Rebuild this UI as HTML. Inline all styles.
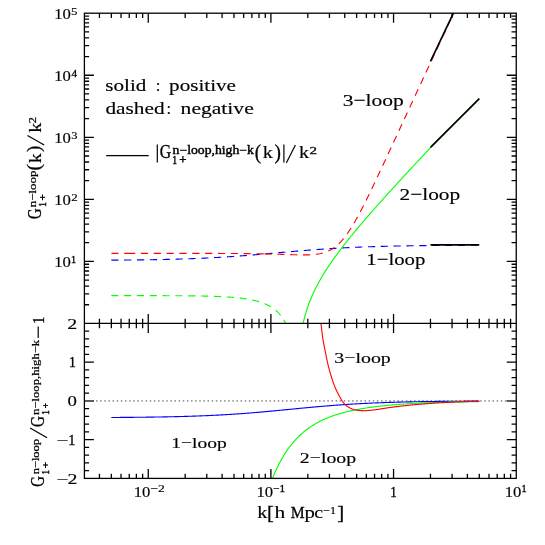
<!DOCTYPE html>
<html><head><meta charset="utf-8"><title>G1+ n-loop vs high-k limit</title>
<style>
html,body{margin:0;padding:0;background:#fff;}
body{width:545px;height:545px;overflow:hidden;}
svg{display:block;}
text{font-family:"Liberation Serif",serif;fill:#000;}
</style></head><body>
<svg width="545" height="545" viewBox="0 0 545 545">
<rect width="545" height="545" fill="#fff"/>
<g style="will-change:opacity;isolation:isolate" opacity="0.9999">
<defs><clipPath id="ct"><rect x="84.40" y="13.20" width="431.85" height="310.25"/></clipPath>
<clipPath id="cb"><rect x="84.40" y="323.45" width="431.85" height="154.95"/></clipPath></defs>
<line x1="84.40" y1="400.90" x2="516.25" y2="400.90" stroke="#989898" stroke-width="1.7" stroke-dasharray="1.5 2.63" stroke-dashoffset="0.75"/>
<g clip-path="url(#ct)">
<path d="M111.33 260.18 L112.25 260.18 L113.17 260.17 L114.10 260.16 L115.02 260.16 L115.94 260.15 L116.86 260.14 L117.78 260.13 L118.53 260.13 M124.18 260.08 L124.24 260.07 L125.16 260.07 L126.08 260.06 L127.01 260.05 L127.93 260.04 L128.85 260.03 L129.77 260.02 L130.69 260.01 L131.38 260.00 M137.03 259.93 L137.15 259.93 L138.07 259.92 L138.99 259.91 L139.92 259.90 L140.84 259.88 L141.76 259.87 L142.68 259.86 L143.60 259.84 L144.23 259.83 M149.88 259.75 L150.06 259.74 L150.98 259.73 L151.90 259.71 L152.83 259.69 L153.75 259.68 L154.67 259.66 L155.59 259.64 L156.52 259.63 L157.07 259.62 M162.72 259.50 L162.97 259.49 L163.89 259.47 L164.82 259.45 L165.74 259.43 L166.66 259.41 L167.58 259.39 L168.50 259.37 L169.43 259.34 L169.92 259.33 M175.57 259.18 L175.88 259.17 L176.80 259.15 L177.73 259.12 L178.65 259.09 L179.57 259.06 L180.49 259.04 L181.41 259.01 L182.34 258.98 L182.77 258.97 M188.41 258.77 L188.79 258.76 L189.71 258.73 L190.64 258.69 L191.56 258.66 L192.48 258.62 L193.40 258.59 L194.32 258.55 L195.25 258.52 L195.61 258.50 M201.25 258.26 L201.70 258.24 L202.62 258.20 L203.55 258.16 L204.47 258.12 L205.39 258.07 L206.31 258.03 L207.24 257.98 L208.16 257.94 L208.45 257.92 M214.09 257.63 L214.61 257.60 L215.54 257.55 L216.46 257.50 L217.38 257.45 L218.30 257.40 L219.22 257.34 L220.15 257.29 L221.07 257.23 L221.28 257.22 M226.91 256.87 L227.52 256.83 L228.45 256.77 L229.37 256.71 L230.29 256.65 L231.21 256.59 L232.13 256.53 L233.06 256.46 L233.98 256.40 L234.10 256.39 M239.73 255.99 L240.43 255.93 L241.36 255.87 L242.28 255.80 L243.20 255.73 L244.12 255.66 L245.04 255.58 L245.97 255.51 L246.89 255.44 L246.91 255.44 M252.55 254.99 L253.34 254.92 L254.27 254.84 L255.19 254.77 L256.11 254.69 L257.03 254.61 L257.96 254.54 L258.88 254.46 L259.72 254.39 M265.35 253.90 L266.25 253.82 L267.18 253.74 L268.10 253.66 L269.02 253.58 L269.94 253.50 L270.87 253.42 L271.79 253.33 L272.52 253.27 M278.15 252.77 L278.24 252.76 L279.17 252.68 L280.09 252.60 L281.01 252.52 L281.93 252.43 L282.85 252.35 L283.78 252.27 L284.70 252.19 L285.32 252.13 M290.95 251.64 L291.15 251.62 L292.08 251.54 L293.00 251.46 L293.92 251.38 L294.84 251.30 L295.76 251.23 L296.69 251.15 L297.61 251.07 L298.12 251.03 M303.75 250.56 L304.06 250.53 L304.99 250.46 L305.91 250.39 L306.83 250.31 L307.75 250.24 L308.68 250.17 L309.60 250.09 L310.52 250.02 L310.93 249.99 M316.57 249.57 L316.97 249.54 L317.90 249.47 L318.82 249.40 L319.74 249.34 L320.66 249.27 L321.59 249.21 L322.51 249.14 L323.43 249.08 L323.75 249.06 M329.39 248.69 L329.89 248.66 L330.81 248.60 L331.73 248.54 L332.65 248.49 L333.57 248.43 L334.50 248.37 L335.42 248.32 L336.34 248.27 L336.57 248.25 M342.21 247.94 L342.80 247.91 L343.72 247.86 L344.64 247.81 L345.56 247.76 L346.48 247.72 L347.41 247.67 L348.33 247.63 L349.25 247.58 L349.40 247.57 M355.05 247.32 L355.71 247.29 L356.63 247.25 L357.55 247.21 L358.47 247.17 L359.40 247.13 L360.32 247.09 L361.24 247.06 L362.16 247.02 L362.24 247.02 M367.89 246.81 L368.62 246.79 L369.54 246.75 L370.46 246.72 L371.38 246.69 L372.31 246.66 L373.23 246.63 L374.15 246.60 L375.07 246.58 L375.08 246.57 M380.73 246.41 L381.53 246.39 L382.45 246.36 L383.37 246.34 L384.29 246.32 L385.22 246.29 L386.14 246.27 L387.06 246.25 L387.93 246.23 M393.58 246.10 L394.44 246.08 L395.36 246.06 L396.28 246.04 L397.20 246.02 L398.13 246.00 L399.05 245.99 L399.97 245.97 L400.78 245.95 M406.43 245.86 L406.43 245.86 L407.35 245.84 L408.27 245.83 L409.19 245.81 L410.12 245.80 L411.04 245.78 L411.96 245.77 L412.88 245.76 L413.63 245.75 M419.27 245.67 L419.34 245.67 L420.26 245.66 L421.18 245.65 L422.10 245.64 L423.03 245.63 L423.95 245.62 L424.87 245.61 L425.79 245.60 L426.47 245.59 M432.12 245.53 L432.25 245.53 L433.17 245.52 L434.09 245.51 L435.01 245.51 L435.94 245.50 L436.86 245.49 L437.78 245.48 L438.70 245.47 L439.32 245.47 M444.97 245.43 L445.16 245.42 L446.08 245.42 L447.00 245.41 L447.92 245.41 L448.85 245.40 L449.77 245.39 L450.69 245.39 L451.61 245.38 L452.17 245.38 M457.82 245.35 L458.07 245.35 L458.99 245.34 L459.91 245.34 L460.84 245.33 L461.76 245.33 L462.68 245.32 L463.60 245.32 L464.52 245.31 L465.02 245.31 M470.67 245.29 L470.98 245.29 L471.90 245.28 L472.82 245.28 L473.75 245.28 L474.67 245.27 L475.59 245.27 L476.51 245.27 L477.43 245.26 L477.87 245.26" fill="none" stroke="#0000ff" stroke-width="1.12"/>
<path d="M111.33 253.31 L111.41 253.31 L111.50 253.31 L111.58 253.31 L111.66 253.31 L111.75 253.31 L111.83 253.31 L111.92 253.31 L112.00 253.31 L112.08 253.31 L112.17 253.31 L112.25 253.32 L112.33 253.32 L112.42 253.32 L112.50 253.32 L112.59 253.32 L112.67 253.32 L112.75 253.32 L112.84 253.32 L112.92 253.32 L113.00 253.32 L113.09 253.32 L113.17 253.32 L113.26 253.32 L113.34 253.32 L113.42 253.32 L113.51 253.32 L113.59 253.32 L113.67 253.32 L113.76 253.32 L113.84 253.32 L113.93 253.32 L114.01 253.32 L114.09 253.32 L114.18 253.32 L114.26 253.32 L114.34 253.32 L114.43 253.32 L114.51 253.32 L114.60 253.32 L114.68 253.32 L114.76 253.32 L114.85 253.32 L114.93 253.32 L115.01 253.32 L115.10 253.32 L115.18 253.32 L115.27 253.32 L115.35 253.32 L115.43 253.32 L115.52 253.32 L115.60 253.32 L115.68 253.32 L115.77 253.32 L115.85 253.32 L115.94 253.32 L116.02 253.32 L116.10 253.32 L116.19 253.32 L116.27 253.32 L116.36 253.32 L116.44 253.32 L116.52 253.32 L116.61 253.32 L116.69 253.32 L116.77 253.32 L116.86 253.32 L116.94 253.32 L117.03 253.32 L117.11 253.32 L117.19 253.32 L117.28 253.32 L117.36 253.32 L117.44 253.32 L117.53 253.32 L117.61 253.32 L117.70 253.32 L117.78 253.32 L117.86 253.32 L117.95 253.32 L118.03 253.32 L118.11 253.32 L118.20 253.32 L118.28 253.32 L118.37 253.32 L118.45 253.32 L118.53 253.32 M124.18 253.32 L124.23 253.32 L124.31 253.32 L124.40 253.32 L124.48 253.32 L124.57 253.32 L124.65 253.32 L124.73 253.32 L124.82 253.32 L124.90 253.32 L124.98 253.32 L125.07 253.32 L125.15 253.32 L125.24 253.32 L125.32 253.32 L125.40 253.32 L125.49 253.32 L125.57 253.32 L125.65 253.32 L125.74 253.32 L125.82 253.32 L125.91 253.32 L125.99 253.32 L126.07 253.32 L126.16 253.32 L126.24 253.32 L126.32 253.32 L126.41 253.32 L126.49 253.32 L126.58 253.32 L126.66 253.32 L126.74 253.32 L126.83 253.32 L126.91 253.32 L126.99 253.32 L127.08 253.32 L127.16 253.32 L127.25 253.32 L127.33 253.32 L127.41 253.32 L127.50 253.32 L127.58 253.32 L127.66 253.32 L127.75 253.32 L127.83 253.32 L127.92 253.32 L128.00 253.32" fill="none" stroke="#ff0000" stroke-width="1.12"/>
<path d="M128.00 253.32 L128.69 253.32 L129.37 253.32 L130.06 253.32 L130.74 253.32 L131.43 253.32 L132.12 253.32 L132.80 253.32 L133.49 253.32 L134.17 253.32 L134.86 253.32 L135.20 253.32 M140.85 253.32 L141.03 253.32 L141.72 253.32 L142.40 253.32 L143.09 253.32 L143.78 253.32 L144.46 253.32 L145.15 253.32 L145.83 253.32 L146.52 253.32 L147.21 253.32 L147.89 253.32 L148.05 253.32 M153.70 253.32 L154.07 253.32 L154.75 253.32 L155.44 253.32 L156.12 253.32 L156.81 253.32 L157.49 253.32 L158.18 253.33 L158.87 253.33 L159.55 253.33 L160.24 253.33 L160.90 253.33 M166.55 253.33 L167.10 253.33 L167.78 253.33 L168.47 253.33 L169.16 253.33 L169.84 253.33 L170.53 253.33 L171.21 253.33 L171.90 253.33 L172.59 253.33 L173.27 253.33 L173.75 253.34 M179.40 253.34 L179.44 253.34 L180.13 253.34 L180.82 253.34 L181.50 253.34 L182.19 253.34 L182.87 253.34 L183.56 253.34 L184.25 253.35 L184.93 253.35 L185.62 253.35 L186.30 253.35 L186.60 253.35 M192.25 253.36 L192.48 253.36 L193.16 253.36 L193.85 253.36 L194.54 253.36 L195.22 253.36 L195.91 253.36 L196.59 253.37 L197.28 253.37 L197.96 253.37 L198.65 253.37 L199.34 253.37 L199.45 253.37 M205.10 253.38 L205.51 253.39 L206.20 253.39 L206.88 253.39 L207.57 253.39 L208.25 253.39 L208.94 253.40 L209.63 253.40 L210.31 253.40 L211.00 253.40 L211.68 253.40 L212.30 253.41 M217.95 253.43 L218.54 253.43 L219.23 253.43 L219.91 253.44 L220.60 253.44 L221.29 253.44 L221.97 253.45 L222.66 253.45 L223.34 253.45 L224.03 253.46 L224.72 253.46 L225.15 253.46 M230.80 253.50 L230.89 253.50 L231.58 253.50 L232.26 253.51 L232.95 253.51 L233.63 253.52 L234.32 253.52 L235.01 253.53 L235.69 253.54 L236.38 253.54 L237.06 253.55 L237.75 253.55 L238.00 253.56 M243.65 253.61 L243.92 253.61 L244.61 253.62 L245.29 253.63 L245.98 253.64 L246.67 253.64 L247.35 253.65 L248.04 253.66 L248.72 253.67 L249.41 253.68 L250.10 253.69 L250.78 253.70 L250.85 253.70 M256.50 253.78 L256.95 253.79 L257.64 253.80 L258.33 253.81 L259.01 253.83 L259.70 253.84 L260.38 253.85 L261.07 253.86 L261.76 253.88 L262.44 253.89 L263.13 253.90 L263.70 253.91" fill="none" stroke="#ff0000" stroke-width="1.12"/>
<path d="M264.50 253.93 L265.58 253.95 L266.66 253.98 L267.74 254.00 L268.82 254.03 L269.90 254.05 L270.98 254.08 L271.70 254.10 M277.35 254.25 L277.45 254.25 L278.53 254.28 L279.61 254.31 L280.69 254.34 L281.77 254.38 L282.85 254.41 L283.93 254.44 L284.54 254.46 M290.19 254.63 L290.40 254.64 L291.48 254.67 L292.56 254.70 L293.64 254.73 L294.72 254.76 L295.80 254.79 L296.88 254.82 L297.39 254.83 M303.04 254.90 L303.35 254.90 L304.43 254.90 L305.51 254.89 L306.59 254.88 L307.67 254.86 L308.75 254.83 L309.83 254.79 L310.24 254.77 M315.87 254.32 L316.31 254.26 L317.39 254.12 L318.46 253.95 L319.54 253.76 L320.62 253.54 L321.70 253.29 L322.78 253.02 L322.93 252.97 M328.24 251.06 L329.26 250.58 L330.34 250.02 L331.42 249.42 L332.50 248.76 L333.57 248.04 L334.44 247.42 M338.76 243.79 L338.97 243.59 L340.05 242.51 L341.13 241.38 L342.21 240.17 L343.29 238.91 L343.63 238.49 M347.06 234.00 L347.61 233.24 L348.68 231.67 L349.76 230.05 L350.84 228.38 L351.07 228.02 M354.01 223.20 L354.08 223.07 L355.16 221.21 L356.24 219.31 L357.32 217.37 L357.56 216.93 M360.23 211.96 L360.56 211.35 L361.64 209.28 L362.72 207.19 L363.54 205.56 M366.08 200.51 L367.03 198.59 L368.11 196.39 L369.19 194.18 L369.25 194.05 M371.71 188.96 L372.43 187.46 L373.51 185.20 L374.59 182.93 L374.81 182.47 M377.22 177.36 L377.83 176.08 L378.90 173.78 L379.98 171.48 L380.28 170.84 M382.67 165.72 L383.22 164.55 L384.30 162.23 L385.38 159.91 L385.71 159.19 M388.09 154.07 L388.62 152.94 L389.70 150.61 L390.78 148.29 L391.12 147.54 M393.50 142.41 L394.01 141.30 L395.09 138.97 L396.17 136.64 L396.53 135.88 M398.90 130.75 L399.41 129.65 L400.49 127.32 L401.57 124.99 L401.93 124.22 M404.30 119.09 L404.81 118.01 L405.89 115.68 L406.97 113.35 L407.33 112.56 M409.71 107.44 L410.20 106.37 L411.28 104.05 L412.36 101.72 L412.74 100.91 M415.12 95.78 L415.60 94.75 L416.68 92.43 L417.76 90.11 L418.16 89.25 M420.54 84.13 L421.00 83.15 L422.08 80.83 L423.16 78.51 L423.58 77.60 M425.96 72.48 L426.39 71.56 L427.47 69.24 L428.55 66.92 L429.00 65.95 M431.39 60.83 L431.79 59.98 L432.87 57.66 L433.95 55.35 L434.43 54.31 M436.82 49.19 L437.19 48.41 L438.27 46.10 L439.34 43.78 L439.87 42.66 M442.26 37.54 L442.58 36.85 L443.66 34.54 L444.74 32.23 L445.31 31.02 M447.70 25.90 L447.98 25.29 L449.06 22.98 L450.14 20.68 L450.74 19.38 M453.14 14.26 L453.38 13.75 L454.46 11.44 L455.53 9.13 L456.19 7.74 M458.58 2.62 L458.77 2.21 L459.85 -0.10 L460.93 -2.41 L461.63 -3.90 M464.02 -9.02 L464.17 -9.33 L465.25 -11.64 L466.33 -13.95 L467.07 -15.54 M469.47 -20.66 L469.57 -20.87 L470.64 -23.17 L471.72 -25.48 L472.52 -27.18 M474.91 -32.30 L474.96 -32.40 L476.04 -34.71 L477.12 -37.01 L477.97 -38.82" fill="none" stroke="#ff0000" stroke-width="1.12"/>
<path d="M111.33 295.61 L111.45 295.61 L111.57 295.61 L111.69 295.61 L111.81 295.61 L111.93 295.61 L112.05 295.61 L112.17 295.61 L112.29 295.61 L112.41 295.61 L112.53 295.61 L112.65 295.61 L112.77 295.61 L112.89 295.61 L113.01 295.61 L113.13 295.61 L113.25 295.61 L113.37 295.61 L113.49 295.61 L113.61 295.61 L113.73 295.61 L113.85 295.61 L113.97 295.61 L114.09 295.61 L114.21 295.61 L114.33 295.61 L114.45 295.61 L114.57 295.61 L114.69 295.61 L114.81 295.61 L114.93 295.62 L115.05 295.62 L115.17 295.62 L115.29 295.62 L115.41 295.62 L115.53 295.62 L115.65 295.62 L115.77 295.62 L115.89 295.62 L116.01 295.62 L116.13 295.62 L116.25 295.62 L116.37 295.62 L116.49 295.62 L116.61 295.62 L116.73 295.62 L116.85 295.62 L116.97 295.62 L117.09 295.62 L117.21 295.62 L117.33 295.62 L117.45 295.62 L117.57 295.62 L117.69 295.62 L117.81 295.62 L117.93 295.62 L118.05 295.62 L118.17 295.62 L118.29 295.62 L118.33 295.62 M123.98 295.62 L124.04 295.62 L124.16 295.62 L124.28 295.62 L124.40 295.62 L124.52 295.62 L124.64 295.62 L124.76 295.62 L124.88 295.62 L125.00 295.62 L125.12 295.62 L125.24 295.62 L125.36 295.62 L125.48 295.62 L125.60 295.62 L125.72 295.62 L125.84 295.62 L125.96 295.62 L126.08 295.62 L126.20 295.62 L126.32 295.62 L126.44 295.62 L126.56 295.62 L126.68 295.62 L126.80 295.62 L126.92 295.62 L127.04 295.62 L127.16 295.62 L127.28 295.62 L127.40 295.62 L127.52 295.62 L127.64 295.62 L127.76 295.62 L127.88 295.62 L128.00 295.62 L128.12 295.62 L128.24 295.62 L128.36 295.62 L128.48 295.62 L128.60 295.62 L128.72 295.62 L128.84 295.62 L128.96 295.62 L129.08 295.62 L129.20 295.62 L129.32 295.62 L129.44 295.62 L129.56 295.62 L129.68 295.62 L129.80 295.62 L129.92 295.62 L130.04 295.62 L130.16 295.62 L130.28 295.62 L130.40 295.62 L130.52 295.62 L130.64 295.62 L130.76 295.62 L130.88 295.62 L131.00 295.62 L131.12 295.62 L131.18 295.62 M136.83 295.63 L136.88 295.63 L137.00 295.63 L137.12 295.63 L137.24 295.63 L137.36 295.63 L137.48 295.63 L137.60 295.63 L137.72 295.63 L137.84 295.63 L137.96 295.63 L138.08 295.63 L138.20 295.63 L138.32 295.63 L138.44 295.63 L138.56 295.63 L138.68 295.63 L138.80 295.63 L138.92 295.63 L139.04 295.63 L139.16 295.63 L139.28 295.63 L139.40 295.63 L139.52 295.63 L139.64 295.63 L139.76 295.63 L139.88 295.63 L140.00 295.63 L140.12 295.63 L140.24 295.63 L140.36 295.63 L140.48 295.63 L140.60 295.63 L140.72 295.63 L140.84 295.63 L140.96 295.63 L141.08 295.63 L141.20 295.63 L141.32 295.63 L141.44 295.63 L141.56 295.63 L141.68 295.63 L141.80 295.63 L141.92 295.63 L142.04 295.63 L142.16 295.63 L142.28 295.63 L142.40 295.63 L142.52 295.63 L142.64 295.63 L142.76 295.63 L142.88 295.63 L143.00 295.64 L143.12 295.64 L143.24 295.64 L143.36 295.64 L143.48 295.64 L143.60 295.64 L143.72 295.64 L143.84 295.64 L143.96 295.64 L144.03 295.64 M149.68 295.65 L149.72 295.65 L149.84 295.65 L149.96 295.65 L150.08 295.65 L150.20 295.65 L150.32 295.65 L150.44 295.65 L150.56 295.65 L150.68 295.65 L150.80 295.65 L150.92 295.65 L151.04 295.65 L151.16 295.65 L151.28 295.65 L151.40 295.65 L151.52 295.65 L151.64 295.65 L151.76 295.65 L151.88 295.65 L152.00 295.65 L152.12 295.65 L152.24 295.65 L152.36 295.65 L152.48 295.65 L152.60 295.65 L152.72 295.65 L152.84 295.65 L152.96 295.65 L153.08 295.65 L153.20 295.65 L153.32 295.65 L153.44 295.65 L153.56 295.65 L153.68 295.65 L153.80 295.65 L153.92 295.65 L154.04 295.65 L154.16 295.65 L154.28 295.65 L154.40 295.65 L154.52 295.65 L154.64 295.65 L154.76 295.66 L154.88 295.66 L155.00 295.66 L155.12 295.66 L155.24 295.66 L155.36 295.66 L155.48 295.66 L155.60 295.66 L155.72 295.66 L155.84 295.66 L155.96 295.66 L156.08 295.66 L156.19 295.66 L156.31 295.66 L156.43 295.66 L156.55 295.66 L156.67 295.66 L156.79 295.66 L156.88 295.66 M162.53 295.68 L162.55 295.68 L162.67 295.68 L162.79 295.68 L162.91 295.68 L163.03 295.68 L163.15 295.68 L163.27 295.68 L163.39 295.68 L163.51 295.68 L163.63 295.68 L163.75 295.68 L163.87 295.68 L163.99 295.68 L164.11 295.68 L164.23 295.68 L164.35 295.68 L164.47 295.68 L164.59 295.68 L164.71 295.68 L164.83 295.68 L164.95 295.68 L165.07 295.68 L165.19 295.69 L165.31 295.69 L165.43 295.69 L165.55 295.69 L165.67 295.69 L165.79 295.69 L165.91 295.69 L166.03 295.69 L166.15 295.69 L166.27 295.69 L166.39 295.69 L166.51 295.69 L166.63 295.69 L166.75 295.69 L166.87 295.69 L166.99 295.69 L167.11 295.69 L167.23 295.69 L167.35 295.69 L167.47 295.69 L167.59 295.69 L167.71 295.69 L167.83 295.70 L167.95 295.70 L168.07 295.70 L168.19 295.70 L168.31 295.70 L168.43 295.70 L168.55 295.70 L168.67 295.70 L168.79 295.70 L168.91 295.70 L169.03 295.70 L169.15 295.70 L169.27 295.70 L169.39 295.70 L169.51 295.70 L169.63 295.70 L169.73 295.70 M175.38 295.73 L175.39 295.73 L175.51 295.73 L175.63 295.73 L175.75 295.73 L175.87 295.73 L175.99 295.74 L176.11 295.74 L176.23 295.74 L176.35 295.74 L176.47 295.74 L176.59 295.74 L176.71 295.74 L176.83 295.74 L176.95 295.74 L177.07 295.74 L177.19 295.74 L177.31 295.74 L177.43 295.74 L177.55 295.75 L177.67 295.75 L177.79 295.75 L177.91 295.75 L178.03 295.75 L178.15 295.75 L178.27 295.75 L178.39 295.75 L178.51 295.75 L178.63 295.75 L178.75 295.75 L178.87 295.75 L178.99 295.75 L179.11 295.76 L179.23 295.76 L179.35 295.76 L179.47 295.76 L179.59 295.76 L179.71 295.76 L179.83 295.76 L179.95 295.76 L180.07 295.76 L180.19 295.76 L180.31 295.76 L180.43 295.76 L180.55 295.77 L180.67 295.77 L180.79 295.77 L180.91 295.77 L181.03 295.77 L181.15 295.77 L181.27 295.77 L181.39 295.77 L181.51 295.77 L181.63 295.77 L181.75 295.77 L181.87 295.78 L181.99 295.78 L182.11 295.78 L182.23 295.78 L182.35 295.78 L182.47 295.78 L182.58 295.78 M188.23 295.83 L188.35 295.83 L188.47 295.84 L188.59 295.84 L188.71 295.84 L188.83 295.84 L188.95 295.84 L189.06 295.84 L189.18 295.84 L189.30 295.84 L189.42 295.85 L189.54 295.85 L189.66 295.85 L189.78 295.85 L189.90 295.85 L190.02 295.85 L190.14 295.85 L190.26 295.86 L190.38 295.86 L190.50 295.86 L190.62 295.86 L190.74 295.86 L190.86 295.86 L190.98 295.86 L191.10 295.87 L191.22 295.87 L191.34 295.87 L191.46 295.87 L191.58 295.87 L191.70 295.87 L191.82 295.87 L191.94 295.88 L192.06 295.88 L192.18 295.88 L192.30 295.88 L192.42 295.88 L192.54 295.88 L192.66 295.88 L192.78 295.89 L192.90 295.89 L193.02 295.89 L193.14 295.89 L193.26 295.89 L193.38 295.89 L193.50 295.90 L193.62 295.90 L193.74 295.90 L193.86 295.90 L193.98 295.90 L194.10 295.90 L194.22 295.91 L194.34 295.91 L194.46 295.91 L194.58 295.91 L194.70 295.91 L194.82 295.91 L194.94 295.92 L195.06 295.92 L195.18 295.92 L195.30 295.92 L195.42 295.92 L195.43 295.92 M201.08 296.02 L201.18 296.02 L201.30 296.02 L201.42 296.02 L201.54 296.02 L201.66 296.03 L201.78 296.03 L201.90 296.03 L202.02 296.03 L202.14 296.04 L202.26 296.04 L202.38 296.04 L202.50 296.04 L202.62 296.05 L202.74 296.05 L202.86 296.05 L202.98 296.05 L203.10 296.06 L203.22 296.06 L203.34 296.06 L203.46 296.06 L203.58 296.07 L203.70 296.07 L203.82 296.07 L203.94 296.07 L204.06 296.08 L204.18 296.08 L204.30 296.08 L204.42 296.08 L204.54 296.09 L204.66 296.09 L204.78 296.09 L204.90 296.09 L205.02 296.10 L205.14 296.10 L205.26 296.10 L205.38 296.11 L205.50 296.11 L205.62 296.11 L205.74 296.11 L205.86 296.12 L205.98 296.12 L206.10 296.12 L206.22 296.12 L206.34 296.13 L206.46 296.13 L206.58 296.13 L206.70 296.14 L206.82 296.14 L206.94 296.14 L207.06 296.15 L207.18 296.15 L207.30 296.15 L207.42 296.15 L207.54 296.16 L207.66 296.16 L207.78 296.16 L207.90 296.17 L208.02 296.17 L208.14 296.17 L208.26 296.18 L208.27 296.18 M213.92 296.34 L214.02 296.35 L214.14 296.35 L214.26 296.36 L214.38 296.36 L214.50 296.36 L214.62 296.37 L214.74 296.37 L214.86 296.38 L214.98 296.38 L215.10 296.39 L215.22 296.39 L215.34 296.39 L215.46 296.40 L215.58 296.40 L215.70 296.41 L215.82 296.41 L215.94 296.42 L216.06 296.42 L216.18 296.43 L216.30 296.43 L216.42 296.43 L216.54 296.44 L216.66 296.44 L216.78 296.45 L216.90 296.45 L217.02 296.46 L217.14 296.46 L217.26 296.47 L217.38 296.47 L217.50 296.48 L217.62 296.48 L217.74 296.49 L217.86 296.49 L217.98 296.50 L218.10 296.50 L218.22 296.51 L218.34 296.51 L218.46 296.52 L218.58 296.52 L218.70 296.53 L218.82 296.53 L218.94 296.54 L219.06 296.54 L219.18 296.55 L219.30 296.55 L219.42 296.56 L219.54 296.56 L219.66 296.57 L219.78 296.57 L219.90 296.58 L220.02 296.58 L220.14 296.59 L220.26 296.59 L220.38 296.60 L220.50 296.60 L220.62 296.61 L220.74 296.62 L220.86 296.62 L220.98 296.63 L221.10 296.63 L221.12 296.63 M226.76 296.94 L226.85 296.94 L226.97 296.95 L227.09 296.96 L227.21 296.97 L227.33 296.97 L227.45 296.98 L227.57 296.99 L227.69 297.00 L227.81 297.00 L227.93 297.01 L228.05 297.02 L228.17 297.03 L228.29 297.04 L228.41 297.04 L228.53 297.05 L228.65 297.06 L228.77 297.07 L228.89 297.08 L229.01 297.08 L229.13 297.09 L229.25 297.10 L229.37 297.11 L229.49 297.12 L229.61 297.13 L229.73 297.13 L229.85 297.14 L229.97 297.15 L230.09 297.16 L230.21 297.17 L230.33 297.18 L230.45 297.19 L230.57 297.19 L230.69 297.20 L230.81 297.21 L230.93 297.22 L231.05 297.23 L231.17 297.24 L231.29 297.25 L231.41 297.26 L231.53 297.27 L231.65 297.28 L231.77 297.28 L231.89 297.29 L232.01 297.30 L232.13 297.31 L232.25 297.32 L232.37 297.33 L232.49 297.34 L232.61 297.35 L232.73 297.36 L232.85 297.37 L232.97 297.38 L233.09 297.39 L233.21 297.40 L233.33 297.41 L233.45 297.42 L233.57 297.43 L233.69 297.44 L233.81 297.45 L233.93 297.46 L233.94 297.46 M239.56 298.02 L239.57 298.02 L239.69 298.03 L239.81 298.04 L239.93 298.06 L240.05 298.07 L240.17 298.08 L240.29 298.10 L240.41 298.11 L240.53 298.13 L240.65 298.14 L240.77 298.16 L240.89 298.17 L241.01 298.18 L241.13 298.20 L241.25 298.21 L241.37 298.23 L241.49 298.24 L241.61 298.26 L241.73 298.27 L241.85 298.29 L241.97 298.30 L242.09 298.32 L242.21 298.33 L242.33 298.35 L242.45 298.36 L242.57 298.38 L242.69 298.39 L242.81 298.41 L242.93 298.43 L243.05 298.44 L243.17 298.46 L243.29 298.47 L243.41 298.49 L243.53 298.51 L243.65 298.52 L243.77 298.54 L243.89 298.56 L244.01 298.57 L244.13 298.59 L244.25 298.61 L244.37 298.62 L244.49 298.64 L244.61 298.66 L244.73 298.67 L244.85 298.69 L244.97 298.71 L245.09 298.73 L245.21 298.74 L245.33 298.76 L245.45 298.78 L245.57 298.80 L245.69 298.82 L245.81 298.83 L245.93 298.85 L246.05 298.87 L246.17 298.89 L246.29 298.91 L246.41 298.93 L246.53 298.95 L246.65 298.97 L246.70 298.97 M252.25 299.99 L252.29 300.00 L252.41 300.02 L252.53 300.05 L252.65 300.07 L252.77 300.10 L252.89 300.13 L253.01 300.15 L253.13 300.18 L253.25 300.21 L253.37 300.23 L253.49 300.26 L253.61 300.29 L253.73 300.31 L253.85 300.34 L253.97 300.37 L254.09 300.40 L254.21 300.42 L254.33 300.45 L254.45 300.48 L254.57 300.51 L254.68 300.54 L254.80 300.57 L254.92 300.59 L255.04 300.62 L255.16 300.65 L255.28 300.68 L255.40 300.71 L255.52 300.74 L255.64 300.77 L255.76 300.80 L255.88 300.83 L256.00 300.86 L256.12 300.89 L256.24 300.92 L256.36 300.96 L256.48 300.99 L256.60 301.02 L256.72 301.05 L256.84 301.08 L256.96 301.11 L257.08 301.15 L257.20 301.18 L257.32 301.21 L257.44 301.24 L257.56 301.28 L257.68 301.31 L257.80 301.34 L257.92 301.38 L258.04 301.41 L258.16 301.45 L258.28 301.48 L258.40 301.52 L258.52 301.55 L258.64 301.59 L258.76 301.62 L258.88 301.66 L259.00 301.69 L259.12 301.73 L259.23 301.76 M264.56 303.64 L264.64 303.68 L264.76 303.73 L264.88 303.78 L265.00 303.83 L265.12 303.88 L265.24 303.93 L265.36 303.98 L265.48 304.03 L265.60 304.09 L265.72 304.14 L265.84 304.19 L265.96 304.25 L266.08 304.30 L266.20 304.35 L266.32 304.41 L266.44 304.46 L266.56 304.52 L266.68 304.57 L266.80 304.63 L266.92 304.69 L267.04 304.74 L267.16 304.80 L267.28 304.86 L267.40 304.92 L267.52 304.97 L267.64 305.03 L267.76 305.09 L267.88 305.15 L268.00 305.21 L268.12 305.27 L268.24 305.33 L268.36 305.40 L268.48 305.46 L268.60 305.52 L268.72 305.58 L268.84 305.65 L268.96 305.71 L269.08 305.77 L269.20 305.84 L269.32 305.91 L269.44 305.97 L269.56 306.04 L269.68 306.10 L269.80 306.17 L269.92 306.24 L270.04 306.31 L270.16 306.38 L270.28 306.45 L270.40 306.52 L270.52 306.59 L270.64 306.66 L270.76 306.73 L270.88 306.80 L270.99 306.87 M275.58 310.15 L275.68 310.23 L275.80 310.34 L275.92 310.44 L276.04 310.54 L276.16 310.64 L276.28 310.75 L276.40 310.85 L276.52 310.96 L276.64 311.07 L276.76 311.18 L276.88 311.29 L277.00 311.40 L277.12 311.51 L277.24 311.62 L277.36 311.74 L277.48 311.86 L277.60 311.97 L277.72 312.09 L277.84 312.21 L277.96 312.33 L278.08 312.45 L278.20 312.57 L278.32 312.69 L278.44 312.82 L278.56 312.95 L278.68 313.08 L278.80 313.20 L278.92 313.33 L279.04 313.46 L279.16 313.59 L279.28 313.73 L279.40 313.86 L279.52 314.00 L279.64 314.14 L279.76 314.28 L279.88 314.42 L280.00 314.56 L280.12 314.70 L280.24 314.85 L280.36 315.00 L280.48 315.15 L280.60 315.29" fill="none" stroke="#00ff00" stroke-width="1.12"/>
<path d="M283.72 319.83 L283.84 320.03 L283.96 320.25 L284.08 320.46 L284.20 320.68 L284.32 320.89 L284.44 321.11 L284.56 321.32 L284.68 321.54 L284.80 321.77 L284.92 322.01 L285.04 322.25 L285.16 322.49 L285.28 322.73 L285.40 322.96 L285.52 323.20 L285.64 323.44 L285.76 323.71 L285.88 323.98 L286.00 324.24 L286.12 324.51 L286.24 324.78 L286.36 325.04 L286.48 325.31 L286.60 325.59 L286.72 325.89 L286.84 326.19 L286.88 326.29 M288.76 331.62 L288.87 332.00 L288.99 332.40 L289.11 332.79 L289.23 333.19 L289.35 333.61 L289.47 334.07 L289.59 334.53 L289.71 335.00 L289.83 335.46 L289.95 335.93 L290.07 336.39 L290.19 336.86 L290.31 337.38 L290.43 337.94 L290.55 338.50 L290.57 338.58" fill="none" stroke="#00ff00" stroke-width="1.12"/>
<path d="M300.60 336.07 L300.92 334.17 L301.23 332.36 L301.54 330.65 L301.85 329.02 L302.16 327.46 L302.48 325.97 L302.79 324.54 L303.10 323.16 L303.41 321.84 L303.72 320.56 L304.03 319.32 L304.35 318.12 L304.66 316.96 L304.97 315.83 L305.28 314.74 L305.59 313.67 L305.91 312.63 L306.22 311.62 L306.53 310.63 L306.84 309.66 L307.15 308.71 L307.47 307.79 L307.78 306.88 L308.09 305.99 L308.40 305.12 L308.71 304.27 L309.02 303.43 L309.34 302.61 L309.65 301.80 L309.96 301.00 L310.27 300.22 L310.58 299.45 L310.90 298.69 L311.21 297.94 L311.52 297.21 L311.83 296.48 L312.14 295.76 L312.45 295.06 L312.77 294.36 L313.08 293.67 L313.39 292.99 L313.70 292.32 L314.01 291.66 L314.33 291.00 L314.64 290.35 L314.95 289.71 L315.26 289.07 L315.57 288.45 L315.88 287.82 L316.20 287.21 L316.51 286.60 L316.82 286.00 L317.13 285.40 L317.44 284.80 L317.76 284.22 L318.07 283.64 L318.38 283.06 L318.69 282.49 L319.00 281.92 L319.31 281.36 L319.63 280.80 L319.94 280.24 L320.25 279.69 L320.56 279.15 L320.87 278.61 L321.19 278.07 L321.50 277.53 L321.81 277.00 L322.12 276.48 L322.43 275.95 L322.74 275.43 L323.06 274.92 L323.37 274.40 L323.68 273.89 L323.99 273.39 L324.30 272.88 L324.62 272.38 L324.93 271.88 L325.24 271.39 L325.55 270.89 L325.86 270.40 L326.17 269.92 L326.49 269.43 L326.80 268.95 L327.11 268.47 L327.42 267.99 L327.73 267.52 L328.05 267.04 L328.36 266.57 L328.67 266.10 L328.98 265.64 L329.29 265.17 L329.60 264.71 L329.92 264.25 L330.23 263.79 L330.54 263.33 L330.85 262.88 L331.16 262.43 L331.48 261.98 L331.79 261.53 L332.10 261.08 L332.41 260.63 L332.72 260.19 L333.03 259.75 L333.35 259.31 L333.66 258.87 L333.97 258.43 L334.28 257.99 L334.59 257.56 L334.91 257.13 L335.22 256.70 L335.53 256.26 L335.84 255.84 L336.15 255.41 L336.46 254.98 L336.78 254.56 L337.09 254.13 L337.40 253.71 L337.71 253.29 L338.02 252.87 L338.34 252.45 L338.65 252.03 L338.96 251.62 L339.27 251.20 L339.58 250.79 L339.89 250.38 L340.21 249.96 L340.52 249.55 L340.83 249.14 L341.14 248.74 L341.45 248.33 L341.77 247.92 L342.08 247.52 L342.39 247.11 L342.70 246.71 L343.01 246.30 L343.32 245.90 L343.64 245.50 L343.95 245.10 L344.26 244.70 L344.57 244.30 L344.88 243.91 L345.20 243.51 L345.51 243.11 L345.82 242.72 L346.13 242.32 L346.44 241.93 L346.75 241.54 L347.07 241.15 L347.38 240.75 L347.69 240.36 L348.00 239.97 L348.31 239.59 L348.63 239.20 L348.94 238.81 L349.25 238.42 L349.56 238.04 L349.87 237.65 L350.18 237.27 L350.50 236.88 L350.81 236.50 L351.12 236.11 L351.43 235.73 L351.74 235.35 L352.06 234.97 L352.37 234.59 L352.68 234.21 L352.99 233.83 L353.30 233.45 L353.61 233.07 L353.93 232.69 L354.24 232.32 L354.55 231.94 L354.86 231.56 L355.17 231.19 L355.49 230.81 L355.80 230.44 L356.11 230.07 L356.42 229.69 L356.73 229.32 L357.04 228.95 L357.36 228.57 L357.67 228.20 L357.98 227.83 L358.29 227.46 L358.60 227.09 L358.92 226.72 L359.23 226.35 L359.54 225.98 L359.85 225.61 L360.16 225.25 L360.47 224.88 L360.79 224.51 L361.10 224.14 L361.41 223.78 L361.72 223.41 L362.03 223.05 L362.35 222.68 L362.66 222.32 L362.97 221.95 L363.28 221.59 L363.59 221.22 L363.90 220.86 L364.22 220.50 L364.53 220.13 L364.84 219.77 L365.15 219.41 L365.46 219.05 L365.78 218.69 L366.09 218.33 L366.40 217.96 L366.71 217.60 L367.02 217.24 L367.33 216.89 L367.65 216.53 L367.96 216.17 L368.27 215.81 L368.58 215.45 L368.89 215.09 L369.21 214.73 L369.52 214.38 L369.83 214.02 L370.14 213.66 L370.45 213.31 L370.76 212.95 L371.08 212.59 L371.39 212.24 L371.70 211.88 L372.01 211.53 L372.32 211.17 L372.64 210.82 L372.95 210.46 L373.26 210.11 L373.57 209.75 L373.88 209.40 L374.19 209.05 L374.51 208.69 L374.82 208.34 L375.13 207.99 L375.44 207.64 L375.75 207.28 L376.07 206.93 L376.38 206.58 L376.69 206.23 L377.00 205.88 L377.31 205.53 L377.62 205.17 L377.94 204.82 L378.25 204.47 L378.56 204.12 L378.87 203.77 L379.18 203.42 L379.50 203.07 L379.81 202.72 L380.12 202.38 L380.43 202.03 L380.74 201.68 L381.05 201.33 L381.37 200.98 L381.68 200.63 L381.99 200.28 L382.30 199.94 L382.61 199.59 L382.93 199.24 L383.24 198.89 L383.55 198.55 L383.86 198.20 L384.17 197.85 L384.48 197.51 L384.80 197.16 L385.11 196.81 L385.42 196.47 L385.73 196.12 L386.04 195.78 L386.36 195.43 L386.67 195.09 L386.98 194.74 L387.29 194.40 L387.60 194.05 L387.91 193.71 L388.23 193.36 L388.54 193.02 L388.85 192.67 L389.16 192.33 L389.47 191.99 L389.79 191.64 L390.10 191.30 L390.41 190.95 L390.72 190.61 L391.03 190.27 L391.35 189.93 L391.66 189.58 L391.97 189.24 L392.28 188.90 L392.59 188.56 L392.90 188.21 L393.22 187.87 L393.53 187.53 L393.84 187.19 L394.15 186.85 L394.46 186.50 L394.78 186.16 L395.09 185.82 L395.40 185.48 L395.71 185.14 L396.02 184.80 L396.33 184.46 L396.65 184.12 L396.96 183.78 L397.27 183.43 L397.58 183.09 L397.89 182.75 L398.21 182.41 L398.52 182.07 L398.83 181.73 L399.14 181.39 L399.45 181.06 L399.76 180.72 L400.08 180.38 L400.39 180.04 L400.70 179.70 L401.01 179.36 L401.32 179.02 L401.64 178.68 L401.95 178.34 L402.26 178.00 L402.57 177.67 L402.88 177.33 L403.19 176.99 L403.51 176.65 L403.82 176.31 L404.13 175.97 L404.44 175.64 L404.75 175.30 L405.07 174.96 L405.38 174.62 L405.69 174.29 L406.00 173.95 L406.31 173.61 L406.62 173.27 L406.94 172.94 L407.25 172.60 L407.56 172.26 L407.87 171.93 L408.18 171.59 L408.50 171.25 L408.81 170.92 L409.12 170.58 L409.43 170.24 L409.74 169.91 L410.05 169.57 L410.37 169.24 L410.68 168.90 L410.99 168.56 L411.30 168.23 L411.61 167.89 L411.93 167.56 L412.24 167.22 L412.55 166.89 L412.86 166.55 L413.17 166.22 L413.48 165.88 L413.80 165.55 L414.11 165.21 L414.42 164.88 L414.73 164.54 L415.04 164.21 L415.36 163.87 L415.67 163.54 L415.98 163.20 L416.29 162.87 L416.60 162.53 L416.91 162.20 L417.23 161.87 L417.54 161.53 L417.85 161.20 L418.16 160.86 L418.47 160.53 L418.79 160.20 L419.10 159.86 L419.41 159.53 L419.72 159.20 L420.03 158.86 L420.34 158.53 L420.66 158.20 L420.97 157.86 L421.28 157.53 L421.59 157.20 L421.90 156.86 L422.22 156.53 L422.53 156.20 L422.84 155.86 L423.15 155.53 L423.46 155.20 L423.77 154.87 L424.09 154.53 L424.40 154.20 L424.71 153.87 L425.02 153.54 L425.33 153.20 L425.65 152.87 L425.96 152.54 L426.27 152.21 L426.58 151.88 L426.89 151.54 L427.20 151.21 L427.52 150.88 L427.83 150.55 L428.14 150.22 L428.45 149.88 L428.76 149.55 L429.08 149.22 L429.39 148.89 L429.70 148.56 L430.01 148.23 L430.32 147.90 L430.63 147.59 L430.95 147.27 L431.26 146.96 L431.57 146.64 L431.88 146.33 L432.19 146.02 L432.51 145.70 L432.82 145.39 L433.13 145.07 L433.44 144.76 L433.75 144.45 L434.06 144.13 L434.38 143.82 L434.69 143.50 L435.00 143.19 L435.31 142.87 L435.62 142.56 L435.94 142.25 L436.25 141.93 L436.56 141.62 L436.87 141.30 L437.18 140.99 L437.49 140.68 L437.81 140.36 L438.12 140.05 L438.43 139.73 L438.74 139.42 L439.05 139.11 L439.37 138.79 L439.68 138.48 L439.99 138.16 L440.30 137.85 L440.61 137.54 L440.92 137.22 L441.24 136.91 L441.55 136.59 L441.86 136.28 L442.17 135.97 L442.48 135.65 L442.80 135.34 L443.11 135.02 L443.42 134.71 L443.73 134.40 L444.04 134.08 L444.35 133.77 L444.67 133.45 L444.98 133.14 L445.29 132.82 L445.60 132.51 L445.91 132.20 L446.23 131.88 L446.54 131.57 L446.85 131.25 L447.16 130.94 L447.47 130.63 L447.78 130.31 L448.10 130.00 L448.41 129.68 L448.72 129.37 L449.03 129.06 L449.34 128.74 L449.66 128.43 L449.97 128.11 L450.28 127.80 L450.59 127.49 L450.90 127.17 L451.21 126.86 L451.53 126.54 L451.84 126.23 L452.15 125.92 L452.46 125.60 L452.77 125.29 L453.09 124.97 L453.40 124.66 L453.71 124.35 L454.02 124.03 L454.33 123.72 L454.64 123.40 L454.96 123.09 L455.27 122.78 L455.58 122.46 L455.89 122.15 L456.20 121.83 L456.52 121.52 L456.83 121.20 L457.14 120.89 L457.45 120.58 L457.76 120.26 L458.07 119.95 L458.39 119.63 L458.70 119.32 L459.01 119.01 L459.32 118.69 L459.63 118.38 L459.95 118.06 L460.26 117.75 L460.57 117.44 L460.88 117.12 L461.19 116.81 L461.50 116.49 L461.82 116.18 L462.13 115.87 L462.44 115.55 L462.75 115.24 L463.06 114.92 L463.38 114.61 L463.69 114.30 L464.00 113.98 L464.31 113.67 L464.62 113.35 L464.93 113.04 L465.25 112.73 L465.56 112.41 L465.87 112.10 L466.18 111.78 L466.49 111.47 L466.81 111.15 L467.12 110.84 L467.43 110.53 L467.74 110.21 L468.05 109.90 L468.36 109.58 L468.68 109.27 L468.99 108.96 L469.30 108.64 L469.61 108.33 L469.92 108.01 L470.24 107.70 L470.55 107.39 L470.86 107.07 L471.17 106.76 L471.48 106.44 L471.79 106.13 L472.11 105.82 L472.42 105.50 L472.73 105.19 L473.04 104.87 L473.35 104.56 L473.67 104.25 L473.98 103.93 L474.29 103.62 L474.60 103.30 L474.91 102.99 L475.22 102.68 L475.54 102.36 L475.85 102.05 L476.16 101.73 L476.47 101.42 L476.78 101.11 L477.10 100.79 L477.41 100.48 L477.72 100.16 L478.03 99.85 L478.34 99.53 L478.66 99.22 L478.97 98.91 L479.28 98.59" fill="none" stroke="#00ff00" stroke-width="1.12" />
<path d="M430.47 61.30 L453.40 13.10" fill="none" stroke="#000" stroke-width="1.65" />
<path d="M430.47 147.40 L479.28 98.60" fill="none" stroke="#000" stroke-width="1.65" />
<path d="M430.47 244.90 L479.28 244.90" fill="none" stroke="#000" stroke-width="1.65" />
</g>
<g clip-path="url(#cb)">
<path d="M111.33 417.49 L112.25 417.49 L113.17 417.48 L114.10 417.47 L115.02 417.47 L115.94 417.46 L116.86 417.46 L117.78 417.45 L118.71 417.44 L119.63 417.44 L120.55 417.43 L121.47 417.42 L122.39 417.42 L123.32 417.41 L124.24 417.40 L125.16 417.40 L126.08 417.39 L127.01 417.38 L127.93 417.37 L128.85 417.36 L129.77 417.36 L130.69 417.35 L131.62 417.34 L132.54 417.33 L133.46 417.32 L134.38 417.31 L135.31 417.30 L136.23 417.29 L137.15 417.28 L138.07 417.27 L138.99 417.26 L139.92 417.25 L140.84 417.24 L141.76 417.23 L142.68 417.22 L143.60 417.21 L144.53 417.20 L145.45 417.19 L146.37 417.18 L147.29 417.16 L148.22 417.15 L149.14 417.14 L150.06 417.13 L150.98 417.11 L151.90 417.10 L152.83 417.09 L153.75 417.07 L154.67 417.06 L155.59 417.04 L156.52 417.03 L157.44 417.01 L158.36 417.00 L159.28 416.98 L160.20 416.97 L161.13 416.95 L162.05 416.94 L162.97 416.92 L163.89 416.90 L164.82 416.88 L165.74 416.87 L166.66 416.85 L167.58 416.83 L168.50 416.81 L169.43 416.79 L170.35 416.77 L171.27 416.75 L172.19 416.73 L173.11 416.71 L174.04 416.69 L174.96 416.67 L175.88 416.65 L176.80 416.62 L177.73 416.60 L178.65 416.58 L179.57 416.55 L180.49 416.53 L181.41 416.50 L182.34 416.48 L183.26 416.45 L184.18 416.43 L185.10 416.40 L186.03 416.38 L186.95 416.35 L187.87 416.32 L188.79 416.29 L189.71 416.26 L190.64 416.23 L191.56 416.20 L192.48 416.17 L193.40 416.14 L194.32 416.11 L195.25 416.08 L196.17 416.05 L197.09 416.01 L198.01 415.98 L198.94 415.94 L199.86 415.91 L200.78 415.87 L201.70 415.84 L202.62 415.80 L203.55 415.76 L204.47 415.73 L205.39 415.69 L206.31 415.65 L207.24 415.61 L208.16 415.57 L209.08 415.53 L210.00 415.48 L210.92 415.44 L211.85 415.40 L212.77 415.36 L213.69 415.31 L214.61 415.27 L215.54 415.22 L216.46 415.17 L217.38 415.13 L218.30 415.08 L219.22 415.03 L220.15 414.98 L221.07 414.93 L221.99 414.88 L222.91 414.83 L223.83 414.78 L224.76 414.72 L225.68 414.67 L226.60 414.62 L227.52 414.56 L228.45 414.50 L229.37 414.45 L230.29 414.39 L231.21 414.33 L232.13 414.27 L233.06 414.21 L233.98 414.15 L234.90 414.09 L235.82 414.03 L236.75 413.97 L237.67 413.90 L238.59 413.84 L239.51 413.78 L240.43 413.71 L241.36 413.64 L242.28 413.58 L243.20 413.51 L244.12 413.44 L245.04 413.37 L245.97 413.30 L246.89 413.23 L247.81 413.16 L248.73 413.09 L249.66 413.01 L250.58 412.94 L251.50 412.87 L252.42 412.79 L253.34 412.72 L254.27 412.64 L255.19 412.56 L256.11 412.49 L257.03 412.41 L257.96 412.33 L258.88 412.25 L259.80 412.17 L260.72 412.09 L261.64 412.01 L262.57 411.93 L263.49 411.84 L264.41 411.76 L265.33 411.68 L266.25 411.60 L267.18 411.51 L268.10 411.43 L269.02 411.34 L269.94 411.26 L270.87 411.17 L271.79 411.08 L272.71 411.00 L273.63 410.91 L274.55 410.82 L275.48 410.74 L276.40 410.65 L277.32 410.56 L278.24 410.47 L279.17 410.38 L280.09 410.29 L281.01 410.20 L281.93 410.11 L282.85 410.02 L283.78 409.93 L284.70 409.84 L285.62 409.75 L286.54 409.66 L287.47 409.57 L288.39 409.48 L289.31 409.39 L290.23 409.30 L291.15 409.21 L292.08 409.12 L293.00 409.03 L293.92 408.94 L294.84 408.85 L295.76 408.76 L296.69 408.67 L297.61 408.58 L298.53 408.49 L299.45 408.40 L300.38 408.31 L301.30 408.22 L302.22 408.13 L303.14 408.05 L304.06 407.96 L304.99 407.87 L305.91 407.78 L306.83 407.69 L307.75 407.61 L308.68 407.52 L309.60 407.44 L310.52 407.35 L311.44 407.26 L312.36 407.18 L313.29 407.10 L314.21 407.01 L315.13 406.93 L316.05 406.85 L316.97 406.76 L317.90 406.68 L318.82 406.60 L319.74 406.52 L320.66 406.44 L321.59 406.36 L322.51 406.28 L323.43 406.20 L324.35 406.12 L325.27 406.05 L326.20 405.97 L327.12 405.90 L328.04 405.82 L328.96 405.75 L329.89 405.67 L330.81 405.60 L331.73 405.53 L332.65 405.45 L333.57 405.38 L334.50 405.31 L335.42 405.24 L336.34 405.17 L337.26 405.11 L338.19 405.04 L339.11 404.97 L340.03 404.91 L340.95 404.84 L341.87 404.78 L342.80 404.71 L343.72 404.65 L344.64 404.59 L345.56 404.53 L346.48 404.47 L347.41 404.41 L348.33 404.35 L349.25 404.29 L350.17 404.23 L351.10 404.17 L352.02 404.12 L352.94 404.06 L353.86 404.01 L354.78 403.95 L355.71 403.90 L356.63 403.85 L357.55 403.80 L358.47 403.74 L359.40 403.69 L360.32 403.64 L361.24 403.60 L362.16 403.55 L363.08 403.50 L364.01 403.45 L364.93 403.41 L365.85 403.36 L366.77 403.32 L367.69 403.27 L368.62 403.23 L369.54 403.19 L370.46 403.14 L371.38 403.10 L372.31 403.06 L373.23 403.02 L374.15 402.98 L375.07 402.94 L375.99 402.90 L376.92 402.87 L377.84 402.83 L378.76 402.79 L379.68 402.76 L380.61 402.72 L381.53 402.69 L382.45 402.65 L383.37 402.62 L384.29 402.59 L385.22 402.56 L386.14 402.52 L387.06 402.49 L387.98 402.46 L388.90 402.43 L389.83 402.40 L390.75 402.37 L391.67 402.34 L392.59 402.32 L393.52 402.29 L394.44 402.26 L395.36 402.23 L396.28 402.21 L397.20 402.18 L398.13 402.16 L399.05 402.13 L399.97 402.11 L400.89 402.08 L401.82 402.06 L402.74 402.04 L403.66 402.02 L404.58 401.99 L405.50 401.97 L406.43 401.95 L407.35 401.93 L408.27 401.91 L409.19 401.89 L410.12 401.87 L411.04 401.85 L411.96 401.83 L412.88 401.81 L413.80 401.79 L414.73 401.78 L415.65 401.76 L416.57 401.74 L417.49 401.72 L418.41 401.71 L419.34 401.69 L420.26 401.67 L421.18 401.66 L422.10 401.64 L423.03 401.63 L423.95 401.61 L424.87 401.60 L425.79 401.58 L426.71 401.57 L427.64 401.56 L428.56 401.54 L429.48 401.53 L430.40 401.52 L431.33 401.51 L432.25 401.49 L433.17 401.48 L434.09 401.47 L435.01 401.46 L435.94 401.45 L436.86 401.43 L437.78 401.42 L438.70 401.41 L439.62 401.40 L440.55 401.39 L441.47 401.38 L442.39 401.37 L443.31 401.36 L444.24 401.35 L445.16 401.34 L446.08 401.33 L447.00 401.32 L447.92 401.32 L448.85 401.31 L449.77 401.30 L450.69 401.29 L451.61 401.28 L452.54 401.27 L453.46 401.27 L454.38 401.26 L455.30 401.25 L456.22 401.24 L457.15 401.24 L458.07 401.23 L458.99 401.22 L459.91 401.22 L460.84 401.21 L461.76 401.20 L462.68 401.20 L463.60 401.19 L464.52 401.18 L465.45 401.18 L466.37 401.17 L467.29 401.17 L468.21 401.16 L469.13 401.16 L470.06 401.15 L470.98 401.15 L471.90 401.14 L472.82 401.14 L473.75 401.13 L474.67 401.13 L475.59 401.12 L476.51 401.12 L477.43 401.11 L478.36 401.11 L479.28 401.10" fill="none" stroke="#0000ff" stroke-width="1.12" />
<path d="M266.00 496.91 L266.53 495.21 L267.07 493.54 L267.60 491.90 L268.14 490.30 L268.67 488.73 L269.21 487.20 L269.74 485.69 L270.28 484.22 L270.81 482.78 L271.35 481.37 L271.88 479.98 L272.42 478.63 L272.95 477.30 L273.48 476.00 L274.02 474.73 L274.55 473.48 L275.09 472.26 L275.62 471.06 L276.16 469.89 L276.69 468.74 L277.23 467.61 L277.76 466.50 L278.30 465.42 L278.83 464.36 L279.36 463.32 L279.90 462.30 L280.43 461.30 L280.97 460.32 L281.50 459.36 L282.04 458.41 L282.57 457.49 L283.11 456.58 L283.64 455.69 L284.18 454.82 L284.71 453.97 L285.25 453.13 L285.78 452.30 L286.31 451.50 L286.85 450.70 L287.38 449.93 L287.92 449.16 L288.45 448.42 L288.99 447.68 L289.52 446.96 L290.06 446.25 L290.59 445.56 L291.13 444.88 L291.66 444.21 L292.19 443.55 L292.73 442.91 L293.26 442.27 L293.80 441.65 L294.33 441.04 L294.87 440.44 L295.40 439.85 L295.94 439.28 L296.47 438.71 L297.01 438.15 L297.54 437.60 L298.08 437.07 L298.61 436.54 L299.14 436.02 L299.68 435.51 L300.21 435.01 L300.75 434.51 L301.28 434.03 L301.82 433.56 L302.35 433.09 L302.89 432.63 L303.42 432.18 L303.96 431.73 L304.49 431.30 L305.02 430.87 L305.56 430.45 L306.09 430.03 L306.63 429.62 L307.16 429.22 L307.70 428.83 L308.23 428.44 L308.77 428.06 L309.30 427.68 L309.84 427.32 L310.37 426.95 L310.91 426.60 L311.44 426.24 L311.97 425.90 L312.51 425.56 L313.04 425.23 L313.58 424.90 L314.11 424.57 L314.65 424.25 L315.18 423.94 L315.72 423.63 L316.25 423.33 L316.79 423.03 L317.32 422.73 L317.85 422.45 L318.39 422.16 L318.92 421.88 L319.46 421.60 L319.99 421.33 L320.53 421.06 L321.06 420.80 L321.60 420.54 L322.13 420.28 L322.67 420.03 L323.20 419.78 L323.74 419.54 L324.27 419.30 L324.80 419.06 L325.34 418.83 L325.87 418.60 L326.41 418.37 L326.94 418.15 L327.48 417.93 L328.01 417.71 L328.55 417.50 L329.08 417.29 L329.62 417.08 L330.15 416.87 L330.68 416.67 L331.22 416.48 L331.75 416.28 L332.29 416.09 L332.82 415.90 L333.36 415.71 L333.89 415.52 L334.43 415.34 L334.96 415.16 L335.50 414.99 L336.03 414.81 L336.57 414.64 L337.10 414.47 L337.63 414.30 L338.17 414.14 L338.70 413.98 L339.24 413.81 L339.77 413.66 L340.31 413.50 L340.84 413.35 L341.38 413.19 L341.91 413.05 L342.45 412.90 L342.98 412.75 L343.52 412.61 L344.05 412.47 L344.58 412.33 L345.12 412.19 L345.65 412.05 L346.19 411.92 L346.72 411.79 L347.26 411.66 L347.79 411.53 L348.33 411.40 L348.86 411.27 L349.40 411.15 L349.93 411.03 L350.46 410.91 L351.00 410.79 L351.53 410.67 L352.07 410.56 L352.60 410.44 L353.14 410.33 L353.67 410.22 L354.21 410.11 L354.74 410.00 L355.28 409.89 L355.81 409.78 L356.35 409.68 L356.88 409.58 L357.41 409.48 L357.95 409.37 L358.48 409.28 L359.02 409.18 L359.55 409.08 L360.09 408.99 L360.62 408.89 L361.16 408.80 L361.69 408.71 L362.23 408.62 L362.76 408.53 L363.29 408.44 L363.83 408.35 L364.36 408.26 L364.90 408.18 L365.43 408.09 L365.97 408.01 L366.50 407.93 L367.04 407.85 L367.57 407.77 L368.11 407.69 L368.64 407.61 L369.18 407.53 L369.71 407.46 L370.24 407.38 L370.78 407.31 L371.31 407.23 L371.85 407.16 L372.38 407.09 L372.92 407.02 L373.45 406.95 L373.99 406.88 L374.52 406.81 L375.06 406.74 L375.59 406.68 L376.12 406.61 L376.66 406.55 L377.19 406.48 L377.73 406.42 L378.26 406.36 L378.80 406.29 L379.33 406.23 L379.87 406.17 L380.40 406.11 L380.94 406.05 L381.47 406.00 L382.01 405.94 L382.54 405.88 L383.07 405.82 L383.61 405.77 L384.14 405.71 L384.68 405.66 L385.21 405.61 L385.75 405.55 L386.28 405.50 L386.82 405.45 L387.35 405.40 L387.89 405.35 L388.42 405.30 L388.95 405.25 L389.49 405.20 L390.02 405.15 L390.56 405.10 L391.09 405.06 L391.63 405.01 L392.16 404.96 L392.70 404.92 L393.23 404.87 L393.77 404.83 L394.30 404.78 L394.84 404.74 L395.37 404.70 L395.90 404.66 L396.44 404.61 L396.97 404.57 L397.51 404.53 L398.04 404.49 L398.58 404.45 L399.11 404.41 L399.65 404.37 L400.18 404.33 L400.72 404.29 L401.25 404.26 L401.78 404.22 L402.32 404.18 L402.85 404.15 L403.39 404.11 L403.92 404.07 L404.46 404.04 L404.99 404.00 L405.53 403.97 L406.06 403.94 L406.60 403.90 L407.13 403.87 L407.67 403.84 L408.20 403.80 L408.73 403.77 L409.27 403.74 L409.80 403.71 L410.34 403.68 L410.87 403.65 L411.41 403.62 L411.94 403.58 L412.48 403.56 L413.01 403.53 L413.55 403.50 L414.08 403.47 L414.62 403.44 L415.15 403.41 L415.68 403.38 L416.22 403.36 L416.75 403.33 L417.29 403.30 L417.82 403.28 L418.36 403.25 L418.89 403.22 L419.43 403.20 L419.96 403.17 L420.50 403.15 L421.03 403.12 L421.56 403.10 L422.10 403.07 L422.63 403.05 L423.17 403.03 L423.70 403.00 L424.24 402.98 L424.77 402.96 L425.31 402.93 L425.84 402.91 L426.38 402.89 L426.91 402.87 L427.45 402.85 L427.98 402.82 L428.51 402.80 L429.05 402.78 L429.58 402.76 L430.12 402.74 L430.65 402.72 L431.19 402.70 L431.72 402.68 L432.26 402.66 L432.79 402.64 L433.33 402.62 L433.86 402.60 L434.39 402.59 L434.93 402.57 L435.46 402.55 L436.00 402.53 L436.53 402.51 L437.07 402.49 L437.60 402.48 L438.14 402.46 L438.67 402.44 L439.21 402.43 L439.74 402.41 L440.28 402.39 L440.81 402.38 L441.34 402.36 L441.88 402.34 L442.41 402.33 L442.95 402.31 L443.48 402.30 L444.02 402.28 L444.55 402.27 L445.09 402.25 L445.62 402.24 L446.16 402.22 L446.69 402.21 L447.22 402.19 L447.76 402.18 L448.29 402.17 L448.83 402.15 L449.36 402.14 L449.90 402.12 L450.43 402.11 L450.97 402.10 L451.50 402.08 L452.04 402.07 L452.57 402.06 L453.11 402.05 L453.64 402.03 L454.17 402.02 L454.71 402.01 L455.24 402.00 L455.78 401.98 L456.31 401.97 L456.85 401.96 L457.38 401.95 L457.92 401.94 L458.45 401.93 L458.99 401.92 L459.52 401.90 L460.05 401.89 L460.59 401.88 L461.12 401.87 L461.66 401.86 L462.19 401.85 L462.73 401.84 L463.26 401.83 L463.80 401.82 L464.33 401.81 L464.87 401.80 L465.40 401.79 L465.94 401.78 L466.47 401.77 L467.00 401.76 L467.54 401.75 L468.07 401.74 L468.61 401.73 L469.14 401.72 L469.68 401.71 L470.21 401.71 L470.75 401.70 L471.28 401.69 L471.82 401.68 L472.35 401.67 L472.88 401.66 L473.42 401.65 L473.95 401.65 L474.49 401.64 L475.02 401.63 L475.56 401.62 L476.09 401.61 L476.63 401.61 L477.16 401.60 L477.70 401.59 L478.23 401.58 L478.77 401.58 L479.30 401.57" fill="none" stroke="#00ff00" stroke-width="1.12" />
<path d="M319.60 310.00 L320.00 313.96 L320.40 317.80 L320.80 321.51 L321.20 325.10 L321.60 328.70 L322.00 332.20 L322.40 335.45 L322.80 338.31 L323.20 340.81 L323.60 343.08 L324.00 345.20 L324.40 347.19 L324.80 349.13 L325.20 351.05 L325.60 353.02 L326.00 355.03 L326.40 357.05 L326.80 359.06 L327.20 361.01 L327.61 362.89 L328.01 364.67 L328.41 366.32 L328.81 367.90 L329.21 369.41 L329.61 370.86 L330.01 372.27 L330.41 373.63 L330.81 374.95 L331.21 376.24 L331.61 377.49 L332.01 378.72 L332.41 379.94 L332.81 381.13 L333.21 382.29 L333.61 383.43 L334.01 384.54 L334.41 385.61 L334.81 386.65 L335.21 387.64 L335.61 388.59 L336.01 389.50 L336.41 390.37 L336.81 391.20 L337.21 392.00 L337.61 392.78 L338.01 393.55 L338.41 394.29 L338.81 395.03 L339.21 395.76 L339.61 396.49 L340.01 397.23 L340.41 397.97 L340.81 398.71 L341.21 399.43 L341.61 400.12 L342.01 400.78 L342.41 401.40 L342.81 401.96 L343.21 402.47 L343.62 402.95 L344.02 403.41 L344.42 403.84 L344.82 404.26 L345.22 404.65 L345.62 405.02 L346.02 405.36 L346.42 405.69 L346.82 405.99 L347.22 406.27 L347.62 406.56 L348.02 406.83 L348.42 407.09 L348.82 407.35 L349.22 407.59 L349.62 407.82 L350.02 408.04 L350.42 408.25 L350.82 408.44 L351.22 408.62 L351.62 408.79 L352.02 408.94 L352.42 409.07 L352.82 409.20 L353.22 409.33 L353.62 409.45 L354.02 409.57 L354.42 409.68 L354.82 409.78 L355.22 409.88 L355.62 409.97 L356.02 410.06 L356.42 410.13 L356.82 410.19 L357.22 410.25 L357.62 410.29 L358.02 410.33 L358.42 410.36 L358.82 410.40 L359.22 410.43 L359.63 410.46 L360.03 410.49 L360.43 410.52 L360.83 410.55 L361.23 410.58 L361.63 410.60 L362.03 410.62 L362.43 410.64 L362.83 410.66 L363.23 410.67 L363.63 410.68 L364.03 410.69 L364.43 410.70 L364.83 410.70 L365.23 410.69 L365.63 410.66 L366.03 410.64 L366.43 410.61 L366.83 410.59 L367.23 410.56 L367.63 410.53 L368.03 410.50 L368.43 410.46 L368.83 410.43 L369.23 410.40 L369.63 410.36 L370.03 410.33 L370.43 410.29 L370.83 410.25 L371.23 410.21 L371.63 410.17 L372.03 410.13 L372.43 410.09 L372.83 410.05 L373.23 410.01 L373.63 409.96 L374.03 409.92 L374.43 409.87 L374.83 409.83 L375.23 409.78 L375.64 409.72 L376.04 409.67 L376.44 409.61 L376.84 409.55 L377.24 409.49 L377.64 409.43 L378.04 409.37 L378.44 409.31 L378.84 409.24 L379.24 409.18 L379.64 409.11 L380.04 409.04 L380.44 408.98 L380.84 408.91 L381.24 408.84 L381.64 408.78 L382.04 408.71 L382.44 408.65 L382.84 408.59 L383.24 408.52 L383.64 408.46 L384.04 408.40 L384.44 408.34 L384.84 408.28 L385.24 408.21 L385.64 408.15 L386.04 408.09 L386.44 408.02 L386.84 407.96 L387.24 407.90 L387.64 407.84 L388.04 407.78 L388.44 407.72 L388.84 407.66 L389.24 407.60 L389.64 407.55 L390.04 407.49 L390.44 407.44 L390.84 407.39 L391.24 407.34 L391.65 407.28 L392.05 407.23 L392.45 407.18 L392.85 407.13 L393.25 407.08 L393.65 407.03 L394.05 406.98 L394.45 406.92 L394.85 406.87 L395.25 406.82 L395.65 406.77 L396.05 406.73 L396.45 406.68 L396.85 406.63 L397.25 406.58 L397.65 406.53 L398.05 406.48 L398.45 406.43 L398.85 406.39 L399.25 406.34 L399.65 406.29 L400.05 406.24 L400.45 406.20 L400.85 406.15 L401.25 406.11 L401.65 406.06 L402.05 406.01 L402.45 405.97 L402.85 405.92 L403.25 405.88 L403.65 405.83 L404.05 405.79 L404.45 405.75 L404.85 405.70 L405.25 405.66 L405.65 405.62 L406.05 405.57 L406.45 405.53 L406.85 405.49 L407.25 405.45 L407.66 405.41 L408.06 405.36 L408.46 405.32 L408.86 405.28 L409.26 405.24 L409.66 405.20 L410.06 405.16 L410.46 405.12 L410.86 405.08 L411.26 405.04 L411.66 405.00 L412.06 404.97 L412.46 404.93 L412.86 404.89 L413.26 404.85 L413.66 404.81 L414.06 404.78 L414.46 404.74 L414.86 404.70 L415.26 404.67 L415.66 404.63 L416.06 404.59 L416.46 404.56 L416.86 404.52 L417.26 404.49 L417.66 404.45 L418.06 404.42 L418.46 404.38 L418.86 404.34 L419.26 404.31 L419.66 404.27 L420.06 404.24 L420.46 404.20 L420.86 404.17 L421.26 404.13 L421.66 404.10 L422.06 404.06 L422.46 404.03 L422.86 404.00 L423.26 403.96 L423.67 403.93 L424.07 403.90 L424.47 403.86 L424.87 403.83 L425.27 403.80 L425.67 403.76 L426.07 403.73 L426.47 403.70 L426.87 403.67 L427.27 403.64 L427.67 403.60 L428.07 403.57 L428.47 403.54 L428.87 403.51 L429.27 403.48 L429.67 403.45 L430.07 403.42 L430.47 403.39 L430.87 403.36 L431.27 403.33 L431.67 403.30 L432.07 403.28 L432.47 403.25 L432.87 403.22 L433.27 403.19 L433.67 403.17 L434.07 403.14 L434.47 403.11 L434.87 403.09 L435.27 403.06 L435.67 403.04 L436.07 403.01 L436.47 402.99 L436.87 402.96 L437.27 402.94 L437.67 402.92 L438.07 402.89 L438.47 402.87 L438.87 402.85 L439.27 402.83 L439.68 402.81 L440.08 402.79 L440.48 402.76 L440.88 402.74 L441.28 402.72 L441.68 402.70 L442.08 402.68 L442.48 402.66 L442.88 402.64 L443.28 402.62 L443.68 402.60 L444.08 402.58 L444.48 402.56 L444.88 402.54 L445.28 402.52 L445.68 402.50 L446.08 402.48 L446.48 402.46 L446.88 402.44 L447.28 402.42 L447.68 402.40 L448.08 402.38 L448.48 402.36 L448.88 402.34 L449.28 402.32 L449.68 402.30 L450.08 402.28 L450.48 402.26 L450.88 402.25 L451.28 402.23 L451.68 402.21 L452.08 402.19 L452.48 402.17 L452.88 402.15 L453.28 402.13 L453.68 402.12 L454.08 402.10 L454.48 402.08 L454.88 402.06 L455.28 402.04 L455.69 402.03 L456.09 402.01 L456.49 401.99 L456.89 401.98 L457.29 401.96 L457.69 401.94 L458.09 401.92 L458.49 401.91 L458.89 401.89 L459.29 401.88 L459.69 401.86 L460.09 401.84 L460.49 401.83 L460.89 401.81 L461.29 401.80 L461.69 401.78 L462.09 401.77 L462.49 401.75 L462.89 401.74 L463.29 401.72 L463.69 401.71 L464.09 401.69 L464.49 401.68 L464.89 401.66 L465.29 401.65 L465.69 401.64 L466.09 401.62 L466.49 401.61 L466.89 401.60 L467.29 401.58 L467.69 401.57 L468.09 401.56 L468.49 401.55 L468.89 401.53 L469.29 401.52 L469.69 401.51 L470.09 401.50 L470.49 401.49 L470.89 401.48 L471.29 401.47 L471.70 401.46 L472.10 401.45 L472.50 401.44 L472.90 401.43 L473.30 401.42 L473.70 401.41 L474.10 401.40 L474.50 401.39 L474.90 401.38 L475.30 401.37 L475.70 401.36 L476.10 401.35 L476.50 401.35 L476.90 401.34 L477.30 401.33 L477.70 401.33 L478.10 401.32 L478.50 401.31 L478.90 401.31 L479.30 401.30" fill="none" stroke="#ff0000" stroke-width="1.12" />
</g>
<path d="M106.20 155.50 L148.70 155.50" fill="none" stroke="#000" stroke-width="1.25" />
<path d="M99.44 13.20 L99.44 17.90 M99.44 318.75 L99.44 328.15 M99.44 478.40 L99.44 473.70 M111.33 13.20 L111.33 17.90 M111.33 318.75 L111.33 328.15 M111.33 478.40 L111.33 473.70 M121.04 13.20 L121.04 17.90 M121.04 318.75 L121.04 328.15 M121.04 478.40 L121.04 473.70 M129.25 13.20 L129.25 17.90 M129.25 318.75 L129.25 328.15 M129.25 478.40 L129.25 473.70 M136.36 13.20 L136.36 17.90 M136.36 318.75 L136.36 328.15 M136.36 478.40 L136.36 473.70 M142.64 13.20 L142.64 17.90 M142.64 318.75 L142.64 328.15 M142.64 478.40 L142.64 473.70 M148.25 13.20 L148.25 22.70 M148.25 313.95 L148.25 332.95 M148.25 478.40 L148.25 468.90 M185.17 13.20 L185.17 17.90 M185.17 318.75 L185.17 328.15 M185.17 478.40 L185.17 473.70 M206.77 13.20 L206.77 17.90 M206.77 318.75 L206.77 328.15 M206.77 478.40 L206.77 473.70 M222.09 13.20 L222.09 17.90 M222.09 318.75 L222.09 328.15 M222.09 478.40 L222.09 473.70 M233.98 13.20 L233.98 17.90 M233.98 318.75 L233.98 328.15 M233.98 478.40 L233.98 473.70 M243.69 13.20 L243.69 17.90 M243.69 318.75 L243.69 328.15 M243.69 478.40 L243.69 473.70 M251.90 13.20 L251.90 17.90 M251.90 318.75 L251.90 328.15 M251.90 478.40 L251.90 473.70 M259.01 13.20 L259.01 17.90 M259.01 318.75 L259.01 328.15 M259.01 478.40 L259.01 473.70 M265.29 13.20 L265.29 17.90 M265.29 318.75 L265.29 328.15 M265.29 478.40 L265.29 473.70 M270.90 13.20 L270.90 22.70 M270.90 313.95 L270.90 332.95 M270.90 478.40 L270.90 468.90 M307.82 13.20 L307.82 17.90 M307.82 318.75 L307.82 328.15 M307.82 478.40 L307.82 473.70 M329.42 13.20 L329.42 17.90 M329.42 318.75 L329.42 328.15 M329.42 478.40 L329.42 473.70 M344.74 13.20 L344.74 17.90 M344.74 318.75 L344.74 328.15 M344.74 478.40 L344.74 473.70 M356.63 13.20 L356.63 17.90 M356.63 318.75 L356.63 328.15 M356.63 478.40 L356.63 473.70 M366.34 13.20 L366.34 17.90 M366.34 318.75 L366.34 328.15 M366.34 478.40 L366.34 473.70 M374.55 13.20 L374.55 17.90 M374.55 318.75 L374.55 328.15 M374.55 478.40 L374.55 473.70 M381.66 13.20 L381.66 17.90 M381.66 318.75 L381.66 328.15 M381.66 478.40 L381.66 473.70 M387.94 13.20 L387.94 17.90 M387.94 318.75 L387.94 328.15 M387.94 478.40 L387.94 473.70 M393.55 13.20 L393.55 22.70 M393.55 313.95 L393.55 332.95 M393.55 478.40 L393.55 468.90 M430.47 13.20 L430.47 17.90 M430.47 318.75 L430.47 328.15 M430.47 478.40 L430.47 473.70 M452.07 13.20 L452.07 17.90 M452.07 318.75 L452.07 328.15 M452.07 478.40 L452.07 473.70 M467.39 13.20 L467.39 17.90 M467.39 318.75 L467.39 328.15 M467.39 478.40 L467.39 473.70 M479.28 13.20 L479.28 17.90 M479.28 318.75 L479.28 328.15 M479.28 478.40 L479.28 473.70 M488.99 13.20 L488.99 17.90 M488.99 318.75 L488.99 328.15 M488.99 478.40 L488.99 473.70 M497.20 13.20 L497.20 17.90 M497.20 318.75 L497.20 328.15 M497.20 478.40 L497.20 473.70 M504.31 13.20 L504.31 17.90 M504.31 318.75 L504.31 328.15 M504.31 478.40 L504.31 473.70 M510.59 13.20 L510.59 17.90 M510.59 318.75 L510.59 328.15 M510.59 478.40 L510.59 473.70 M84.40 304.77 L89.10 304.77 M516.25 304.77 L511.55 304.77 M84.40 293.84 L89.10 293.84 M516.25 293.84 L511.55 293.84 M84.40 286.09 L89.10 286.09 M516.25 286.09 L511.55 286.09 M84.40 280.08 L89.10 280.08 M516.25 280.08 L511.55 280.08 M84.40 275.17 L89.10 275.17 M516.25 275.17 L511.55 275.17 M84.40 271.01 L89.10 271.01 M516.25 271.01 L511.55 271.01 M84.40 267.41 L89.10 267.41 M516.25 267.41 L511.55 267.41 M84.40 264.24 L89.10 264.24 M516.25 264.24 L511.55 264.24 M84.40 261.40 L93.90 261.40 M516.25 261.40 L506.75 261.40 M84.40 242.72 L89.10 242.72 M516.25 242.72 L511.55 242.72 M84.40 231.79 L89.10 231.79 M516.25 231.79 L511.55 231.79 M84.40 224.04 L89.10 224.04 M516.25 224.04 L511.55 224.04 M84.40 218.03 L89.10 218.03 M516.25 218.03 L511.55 218.03 M84.40 213.12 L89.10 213.12 M516.25 213.12 L511.55 213.12 M84.40 208.96 L89.10 208.96 M516.25 208.96 L511.55 208.96 M84.40 205.36 L89.10 205.36 M516.25 205.36 L511.55 205.36 M84.40 202.19 L89.10 202.19 M516.25 202.19 L511.55 202.19 M84.40 199.35 L93.90 199.35 M516.25 199.35 L506.75 199.35 M84.40 180.67 L89.10 180.67 M516.25 180.67 L511.55 180.67 M84.40 169.74 L89.10 169.74 M516.25 169.74 L511.55 169.74 M84.40 161.99 L89.10 161.99 M516.25 161.99 L511.55 161.99 M84.40 155.98 L89.10 155.98 M516.25 155.98 L511.55 155.98 M84.40 151.07 L89.10 151.07 M516.25 151.07 L511.55 151.07 M84.40 146.91 L89.10 146.91 M516.25 146.91 L511.55 146.91 M84.40 143.31 L89.10 143.31 M516.25 143.31 L511.55 143.31 M84.40 140.14 L89.10 140.14 M516.25 140.14 L511.55 140.14 M84.40 137.30 L93.90 137.30 M516.25 137.30 L506.75 137.30 M84.40 118.62 L89.10 118.62 M516.25 118.62 L511.55 118.62 M84.40 107.69 L89.10 107.69 M516.25 107.69 L511.55 107.69 M84.40 99.94 L89.10 99.94 M516.25 99.94 L511.55 99.94 M84.40 93.93 L89.10 93.93 M516.25 93.93 L511.55 93.93 M84.40 89.02 L89.10 89.02 M516.25 89.02 L511.55 89.02 M84.40 84.86 L89.10 84.86 M516.25 84.86 L511.55 84.86 M84.40 81.26 L89.10 81.26 M516.25 81.26 L511.55 81.26 M84.40 78.09 L89.10 78.09 M516.25 78.09 L511.55 78.09 M84.40 75.25 L93.90 75.25 M516.25 75.25 L506.75 75.25 M84.40 56.57 L89.10 56.57 M516.25 56.57 L511.55 56.57 M84.40 45.64 L89.10 45.64 M516.25 45.64 L511.55 45.64 M84.40 37.89 L89.10 37.89 M516.25 37.89 L511.55 37.89 M84.40 31.88 L89.10 31.88 M516.25 31.88 L511.55 31.88 M84.40 26.97 L89.10 26.97 M516.25 26.97 L511.55 26.97 M84.40 22.81 L89.10 22.81 M516.25 22.81 L511.55 22.81 M84.40 19.21 L89.10 19.21 M516.25 19.21 L511.55 19.21 M84.40 16.04 L89.10 16.04 M516.25 16.04 L511.55 16.04 M84.40 470.63 L89.10 470.63 M516.25 470.63 L511.55 470.63 M84.40 462.88 L89.10 462.88 M516.25 462.88 L511.55 462.88 M84.40 455.13 L89.10 455.13 M516.25 455.13 L511.55 455.13 M84.40 447.38 L89.10 447.38 M516.25 447.38 L511.55 447.38 M84.40 439.64 L93.90 439.64 M516.25 439.64 L506.75 439.64 M84.40 431.89 L89.10 431.89 M516.25 431.89 L511.55 431.89 M84.40 424.14 L89.10 424.14 M516.25 424.14 L511.55 424.14 M84.40 416.39 L89.10 416.39 M516.25 416.39 L511.55 416.39 M84.40 408.65 L89.10 408.65 M516.25 408.65 L511.55 408.65 M84.40 400.90 L93.90 400.90 M516.25 400.90 L506.75 400.90 M84.40 393.15 L89.10 393.15 M516.25 393.15 L511.55 393.15 M84.40 385.40 L89.10 385.40 M516.25 385.40 L511.55 385.40 M84.40 377.66 L89.10 377.66 M516.25 377.66 L511.55 377.66 M84.40 369.91 L89.10 369.91 M516.25 369.91 L511.55 369.91 M84.40 362.16 L93.90 362.16 M516.25 362.16 L506.75 362.16 M84.40 354.41 L89.10 354.41 M516.25 354.41 L511.55 354.41 M84.40 346.67 L89.10 346.67 M516.25 346.67 L511.55 346.67 M84.40 338.92 L89.10 338.92 M516.25 338.92 L511.55 338.92 M84.40 331.17 L89.10 331.17 M516.25 331.17 L511.55 331.17" stroke="#000" stroke-width="1.30" fill="none"/>
<path d="M84.40 400.90 h9.50 M516.25 400.90 h-9.50" stroke="#5a5a5a" stroke-width="1.7" fill="none"/>
<rect x="84.40" y="13.20" width="431.85" height="465.20" fill="none" stroke="#000" stroke-width="1.30"/>
<line x1="84.40" y1="323.45" x2="516.25" y2="323.45" stroke="#000" stroke-width="1.30"/>
<text transform="translate(105.36 91.20) scale(1.1993 1)" font-size="17.60" font-weight="normal" stroke="#000" stroke-width="0.16">solid</text>
<text transform="translate(155.71 91.20) scale(0.9470 1)" font-size="17.60" font-weight="normal" stroke="#000" stroke-width="0.20">:</text>
<text transform="translate(169.08 91.20) scale(1.2011 1)" font-size="17.60" font-weight="normal" stroke="#000" stroke-width="0.16">positive</text>
<text transform="translate(105.45 114.20) scale(1.2102 1)" font-size="17.60" font-weight="normal" stroke="#000" stroke-width="0.16">dashed</text>
<text transform="translate(166.41 114.20) scale(0.9470 1)" font-size="17.60" font-weight="normal" stroke="#000" stroke-width="0.20">:</text>
<text transform="translate(180.61 114.20) scale(1.2268 1)" font-size="17.60" font-weight="normal" stroke="#000" stroke-width="0.16">negative</text>
<path d="M157.30 144.60 L157.30 162.60" fill="none" stroke="#000" stroke-width="1.20" />
<text transform="translate(159.67 158.30) scale(0.8487 1)" font-size="18.60" font-weight="normal" stroke="#000" stroke-width="0.32">G</text>
<text transform="translate(172.59 154.10) scale(1.1830 1)" font-size="11.60" font-weight="normal" stroke="#000" stroke-width="0.40">n−loop,high−k</text>
<text transform="translate(172.27 163.50) scale(0.8000 1)" font-size="12.00" font-weight="normal" stroke="#000" stroke-width="0.50">1</text>
<text transform="translate(179.19 163.50) scale(1.0638 1)" font-size="12.00" font-weight="normal" stroke="#000" stroke-width="0.50">+</text>
<text transform="translate(254.78 158.60) scale(0.9615 1)" font-size="20.00" font-weight="normal" stroke="#000" stroke-width="0.32">(</text>
<text transform="translate(262.66 158.20) scale(1.1500 1)" font-size="17.60" font-weight="normal" stroke="#000" stroke-width="0.16">k</text>
<text transform="translate(274.42 158.60) scale(0.9615 1)" font-size="20.00" font-weight="normal" stroke="#000" stroke-width="0.32">)</text>
<path d="M283.90 144.60 L283.90 162.60" fill="none" stroke="#000" stroke-width="1.20" />
<path d="M286.30 162.90 L295.40 145.00" fill="none" stroke="#000" stroke-width="1.20" />
<text transform="translate(298.91 158.20) scale(1.1500 1)" font-size="17.60" font-weight="normal" stroke="#000" stroke-width="0.16">k</text>
<text transform="translate(309.56 153.60) scale(1.5155 1)" font-size="10.00" font-weight="normal" stroke="#000" stroke-width="0.25">2</text>
<text transform="translate(342.68 106.30) scale(1.2239 1)" font-size="17.60" font-weight="normal" stroke="#000" stroke-width="0.16">3−loop</text>
<text transform="translate(399.59 200.10) scale(1.2114 1)" font-size="17.60" font-weight="normal" stroke="#000" stroke-width="0.16">2−loop</text>
<text transform="translate(366.28 264.80) scale(1.1813 1)" font-size="17.60" font-weight="normal" stroke="#000" stroke-width="0.16">1−loop</text>
<text transform="translate(171.29 447.60) scale(1.2583 1)" font-size="15.50" font-weight="normal" stroke="#000" stroke-width="0.16">1−loop</text>
<text transform="translate(334.36 362.60) scale(1.2798 1)" font-size="15.50" font-weight="normal" stroke="#000" stroke-width="0.16">3−loop</text>
<text transform="translate(299.86 463.30) scale(1.2775 1)" font-size="15.50" font-weight="normal" stroke="#000" stroke-width="0.16">2−loop</text>
<text transform="translate(54.24 267.30) scale(1.1668 1)" font-size="14.30" font-weight="normal" stroke="#000" stroke-width="0.16">10</text>
<text transform="translate(70.91 263.00) scale(1.0213 1)" font-size="10.00" font-weight="normal" stroke="#000" stroke-width="0.32">1</text>
<text transform="translate(54.24 205.25) scale(1.1668 1)" font-size="14.30" font-weight="normal" stroke="#000" stroke-width="0.16">10</text>
<text transform="translate(71.25 200.95) scale(1.2919 1)" font-size="10.00" font-weight="normal" stroke="#000" stroke-width="0.16">2</text>
<text transform="translate(54.24 143.20) scale(1.1668 1)" font-size="14.30" font-weight="normal" stroke="#000" stroke-width="0.16">10</text>
<text transform="translate(71.20 138.90) scale(1.2530 1)" font-size="10.00" font-weight="normal" stroke="#000" stroke-width="0.16">3</text>
<text transform="translate(54.24 81.15) scale(1.1668 1)" font-size="14.30" font-weight="normal" stroke="#000" stroke-width="0.16">10</text>
<text transform="translate(71.61 76.85) scale(1.1123 1)" font-size="10.00" font-weight="normal" stroke="#000" stroke-width="0.32">4</text>
<text transform="translate(54.24 19.10) scale(1.1668 1)" font-size="14.30" font-weight="normal" stroke="#000" stroke-width="0.16">10</text>
<text transform="translate(71.06 14.80) scale(1.2840 1)" font-size="10.00" font-weight="normal" stroke="#000" stroke-width="0.16">5</text>
<text transform="translate(67.36 328.62) scale(1.3899 1)" font-size="14.30" font-weight="normal" stroke="#000" stroke-width="0.16">2</text>
<text transform="translate(69.01 367.36) scale(0.9522 1)" font-size="14.30" font-weight="normal" stroke="#000" stroke-width="0.32">1</text>
<text transform="translate(67.49 406.10) scale(1.3163 1)" font-size="14.30" font-weight="normal" stroke="#000" stroke-width="0.16">0</text>
<text transform="translate(56.19 444.84) scale(1.4879 1)" font-size="14.30" font-weight="normal" stroke="#000" stroke-width="0.16">−</text>
<text transform="translate(68.36 444.84) scale(0.9919 1)" font-size="14.30" font-weight="normal" stroke="#000" stroke-width="0.32">1</text>
<text transform="translate(56.19 483.57) scale(1.4879 1)" font-size="14.30" font-weight="normal" stroke="#000" stroke-width="0.16">−</text>
<text transform="translate(67.56 483.57) scale(1.3899 1)" font-size="14.30" font-weight="normal" stroke="#000" stroke-width="0.16">2</text>
<text transform="translate(133.79 496.50) scale(1.1668 1)" font-size="14.30" font-weight="normal" stroke="#000" stroke-width="0.16">10</text>
<text transform="translate(150.51 492.20) scale(1.3506 1)" font-size="10.00" font-weight="normal" stroke="#000" stroke-width="0.16">−2</text>
<text transform="translate(256.44 496.50) scale(1.1668 1)" font-size="14.30" font-weight="normal" stroke="#000" stroke-width="0.16">10</text>
<text transform="translate(273.27 492.20) scale(1.1175 1)" font-size="10.00" font-weight="normal" stroke="#000" stroke-width="0.32">−1</text>
<text transform="translate(390.26 496.50) scale(0.9126 1)" font-size="14.30" font-weight="normal" stroke="#000" stroke-width="0.32">1</text>
<text transform="translate(504.74 496.50) scale(1.1668 1)" font-size="14.30" font-weight="normal" stroke="#000" stroke-width="0.16">10</text>
<text transform="translate(521.41 492.20) scale(1.0213 1)" font-size="10.00" font-weight="normal" stroke="#000" stroke-width="0.32">1</text>
<text transform="translate(257.16 518.40) scale(1.1500 1)" font-size="17.60" font-weight="normal" stroke="#000" stroke-width="0.16">k</text>
<text transform="translate(266.92 519.00) scale(1.0431 1)" font-size="19.60" font-weight="normal" stroke="#000" stroke-width="0.32">[</text>
<text transform="translate(274.54 518.40) scale(1.2192 1)" font-size="17.60" font-weight="normal" stroke="#000" stroke-width="0.16">h</text>
<text transform="translate(290.77 518.40) scale(0.8873 1)" font-size="17.60" font-weight="normal" stroke="#000" stroke-width="0.32">M</text>
<text transform="translate(304.59 518.40) scale(1.1808 1)" font-size="17.60" font-weight="normal" stroke="#000" stroke-width="0.16">p</text>
<text transform="translate(314.25 518.40) scale(1.1288 1)" font-size="17.60" font-weight="normal" stroke="#000" stroke-width="0.16">c</text>
<text transform="translate(323.23 514.10) scale(1.2010 1)" font-size="10.00" font-weight="normal" stroke="#000" stroke-width="0.16">−1</text>
<text transform="translate(337.27 519.00) scale(1.0658 1)" font-size="19.60" font-weight="normal" stroke="#000" stroke-width="0.32">]</text>
<text transform="translate(40.90 218.50) rotate(-90) translate(-0.59 0) scale(0.7910 1)" font-size="18.60" font-weight="normal" stroke="#000" stroke-width="0.32">G</text>
<text transform="translate(35.90 206.90) rotate(-90) translate(-0.29 0) scale(1.1946 1)" font-size="10.80" font-weight="normal" stroke="#000" stroke-width="0.25">n−loop</text>
<text transform="translate(46.20 206.00) rotate(-90) translate(-0.82 0) scale(0.8511 1)" font-size="11.00" font-weight="normal" stroke="#000" stroke-width="0.50">1</text>
<text transform="translate(46.20 199.90) rotate(-90) translate(-0.54 0) scale(1.0251 1)" font-size="11.00" font-weight="normal" stroke="#000" stroke-width="0.50">+</text>
<text transform="translate(40.40 169.80) rotate(-90) translate(-0.82 0) scale(1.0016 1)" font-size="19.20" font-weight="normal" stroke="#000" stroke-width="0.32">(</text>
<text transform="translate(40.90 162.78) rotate(-90) translate(-0.35 0) scale(1.1500 1)" font-size="17.60" font-weight="normal" stroke="#000" stroke-width="0.16">k</text>
<text transform="translate(40.40 151.30) rotate(-90) translate(-0.58 0) scale(1.0016 1)" font-size="19.20" font-weight="normal" stroke="#000" stroke-width="0.32">)</text>
<path d="M44.20 145.00 L27.50 135.60" fill="none" stroke="#000" stroke-width="1.20" />
<text transform="translate(40.90 132.28) rotate(-90) translate(-0.35 0) scale(1.1500 1)" font-size="17.60" font-weight="normal" stroke="#000" stroke-width="0.16">k</text>
<text transform="translate(35.90 122.60) rotate(-90) translate(-0.53 0) scale(1.2422 1)" font-size="10.00" font-weight="normal" stroke="#000" stroke-width="0.25">2</text>
<text transform="translate(43.80 486.20) rotate(-90) translate(-0.59 0) scale(0.7910 1)" font-size="18.60" font-weight="normal" stroke="#000" stroke-width="0.32">G</text>
<text transform="translate(38.80 474.00) rotate(-90) translate(-0.28 0) scale(1.1514 1)" font-size="10.80" font-weight="normal" stroke="#000" stroke-width="0.25">n−loop</text>
<text transform="translate(49.00 473.60) rotate(-90) translate(-0.82 0) scale(0.8511 1)" font-size="11.00" font-weight="normal" stroke="#000" stroke-width="0.50">1</text>
<text transform="translate(49.00 467.60) rotate(-90) translate(-0.54 0) scale(1.0251 1)" font-size="11.00" font-weight="normal" stroke="#000" stroke-width="0.50">+</text>
<path d="M47.10 437.70 L30.10 428.00" fill="none" stroke="#000" stroke-width="1.20" />
<text transform="translate(43.80 426.30) rotate(-90) translate(-0.61 0) scale(0.8157 1)" font-size="18.60" font-weight="normal" stroke="#000" stroke-width="0.32">G</text>
<text transform="translate(38.80 414.70) rotate(-90) translate(-0.29 0) scale(1.1750 1)" font-size="10.80" font-weight="normal" stroke="#000" stroke-width="0.25">n−loop,high−k</text>
<text transform="translate(49.00 413.90) rotate(-90) translate(-0.82 0) scale(0.8511 1)" font-size="11.00" font-weight="normal" stroke="#000" stroke-width="0.50">1</text>
<text transform="translate(49.00 407.90) rotate(-90) translate(-0.43 0) scale(0.8317 1)" font-size="11.00" font-weight="normal" stroke="#000" stroke-width="0.50">+</text>
<path d="M38.20 338.00 L38.20 326.50" fill="none" stroke="#000" stroke-width="1.20" />
<text transform="translate(43.80 322.60) rotate(-90) translate(-1.29 0) scale(0.8382 1)" font-size="17.60" font-weight="normal" stroke="#000" stroke-width="0.32">1</text>
</g>
</svg>
</body></html>
